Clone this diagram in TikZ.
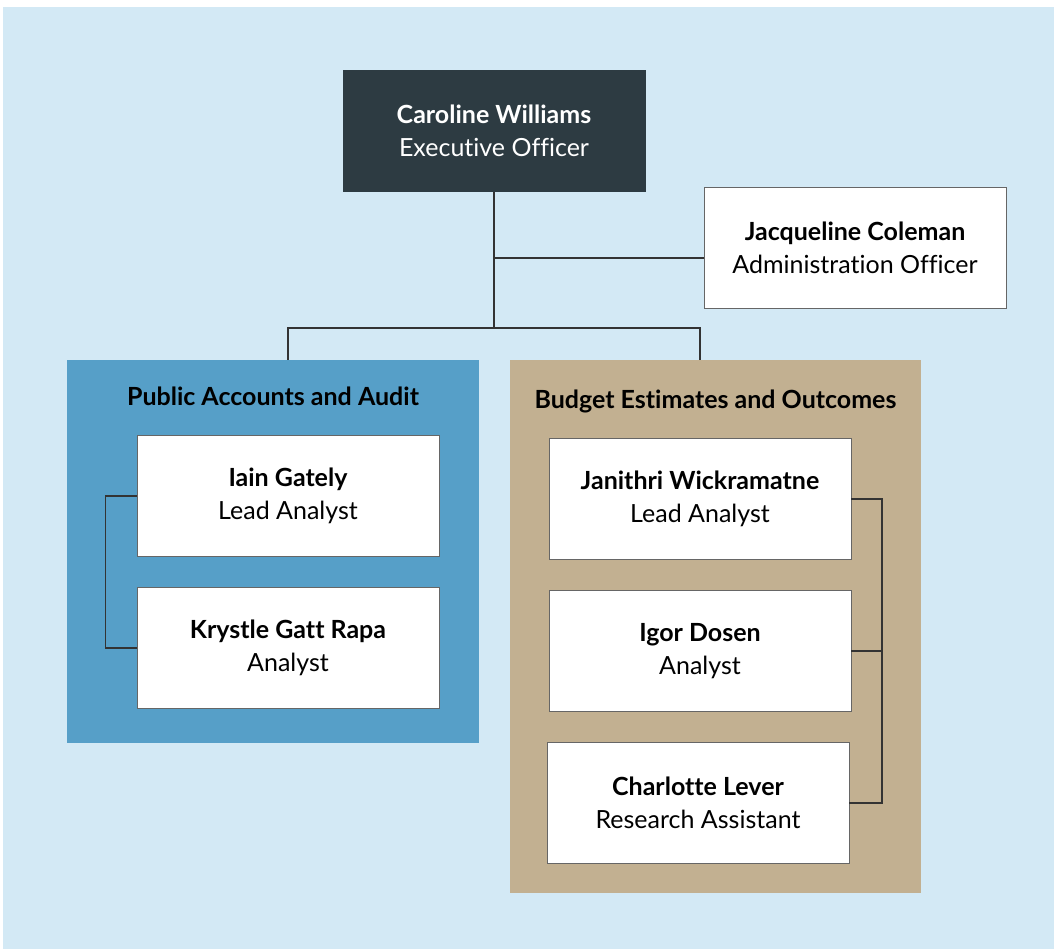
\documentclass[tikz,border=0pt]{standalone}
\usepackage{fontspec}
\setmainfont{Lato}[Ligatures=NoCommon]
\definecolor{skyback}{HTML}{D3E9F5}
\definecolor{paablue}{HTML}{569FC8}
\definecolor{beotan}{HTML}{C2B091}
\definecolor{chiefgrey}{HTML}{2D3B42}
\newcommand{\who}[2]{\textbf{#1}\\#2}

\begin{document}
\begin{tikzpicture}[x=1pt, y=-1pt,
    link/.style={draw=black!80, line width=1.1pt},
    person/.style={draw=black!60, fill=white, line width=0.8pt,
      minimum width=302pt, minimum height=121pt, align=center,
      font=\fontsize{25}{33}\selectfont},
    unit/.style={minimum width=412pt, inner sep=0pt},
    unittitle/.style={below, font=\bfseries\fontsize{25}{28}\selectfont}]
  \useasboundingbox (0,0) rectangle (1054,949);
  \fill[skyback] (3,7) rectangle (1054,949);

  % top of the office
  \node[person, fill=chiefgrey, draw=chiefgrey, text=white] (ceo) at (494,131)
    {\who{Caroline Williams}{Executive Officer}};
  \node[person] (admin) at (855,248) {\who{Jacqueline Coleman}{Administration Officer}};
  \coordinate (fork) at (494,328);
  \coordinate (adminin) at ([yshift=-10pt]admin.west);

  % the two units
  \node[unit, fill=paablue, minimum height=383pt] (paa) at (273,551.5) {};
  \node[unit, fill=beotan, minimum height=533pt, minimum width=411pt] (beo) at (715.5,626.5) {};
  \node[unittitle] at ([yshift=-24pt]paa.north) {Public Accounts and Audit};
  \node[unittitle] at ([yshift=-27pt]beo.north) {Budget Estimates and Outcomes};

  \node[person] (iain) at (288,496) {\who{Iain Gately}{Lead Analyst}};
  \node[person] (krystle) at (288,648) {\who{Krystle Gatt Rapa}{Analyst}};
  \node[person] (janithri) at (700,499) {\who{Janithri Wickramatne}{Lead Analyst}};
  \node[person] (igor) at (700,651) {\who{Igor Dosen}{Analyst}};
  \node[person] (charlotte) at (698,803) {\who{Charlotte Lever}{Research Assistant}};
  \coordinate (rail) at (882,0);

  % reporting lines
  \draw[link] (ceo.south) -- (fork);
  \draw[link] (ceo.south |- adminin) -- (adminin);
  \draw[link] (iain.center |- paa.north) |- (fork) -| (janithri.center |- beo.north);
  \draw[link] (iain.west) -- ++(-31,0) |- (krystle.west);
  \draw[link] (janithri.east) -| (rail |- charlotte.east) -- (charlotte.east);
  \draw[link] (igor.east) -- (rail |- igor.east);
\end{tikzpicture}
\end{document}
